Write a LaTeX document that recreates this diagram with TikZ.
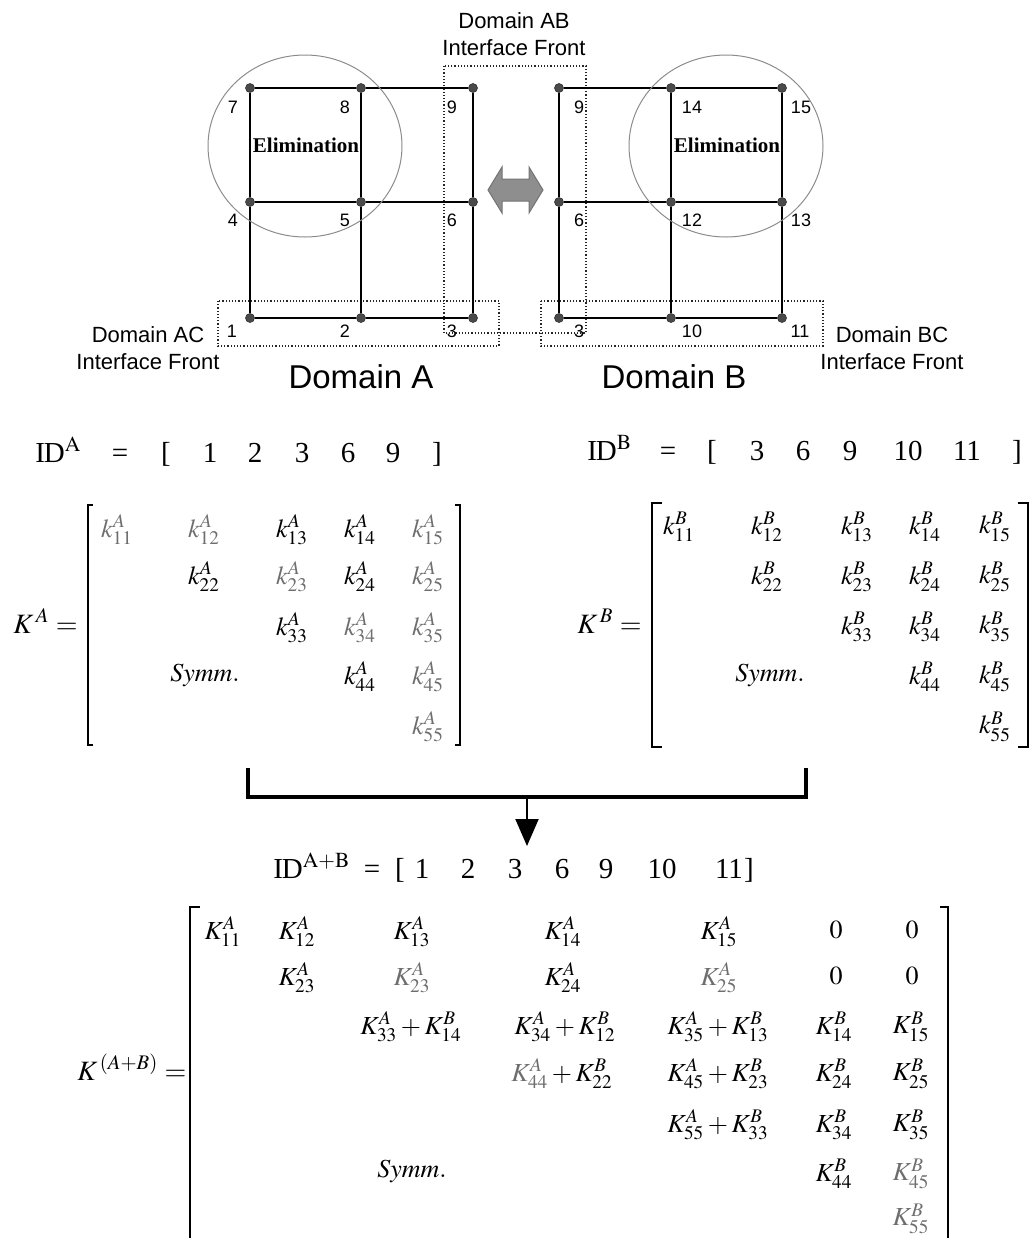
\documentclass[tikz,border=0pt]{standalone}
\usepackage{mathptmx}
\usepackage[no-math]{fontspec}
\setmainfont{Liberation Serif}
\setsansfont{Liberation Sans}
\usepackage{tikz}
\usetikzlibrary{positioning,arrows.meta,shapes.geometric}
\definecolor{punta}{HTML}{4A4A4A}
\definecolor{aro}{HTML}{8C8C8C}
\definecolor{flecha}{HTML}{8E8E8E}
\definecolor{borron}{HTML}{6E6E6E}
\newcommand{\IDsym}{I\kern-0.04em D}

\begin{document}
\begin{tikzpicture}[
  x=0.5pt, y=-0.5pt,
  punto/.style={circle, fill=punta, draw=black!80, line width=0.3pt, minimum size=4.5pt, inner sep=0pt},
  num/.style={font=\sffamily\fontsize{9}{10}\selectfont, inner sep=0pt},
  malla/.style={black, line width=1pt},
  frente/.style={black!85, line width=0.8pt, dash pattern=on 0.6pt off 1pt},
  elim/.style={ellipse, draw=aro, line width=0.5pt, minimum width=97pt, minimum height=91pt, inner sep=0pt},
  elimtxt/.style={font=\rmfamily\bfseries\fontsize{10.5}{12}\selectfont, inner sep=0pt},
  rotulo/.style={font=\sffamily\fontsize{11}{13.5}\selectfont, align=center, inner sep=0pt},
  dominio/.style={font=\sffamily\fontsize{16.5}{18}\selectfont, inner sep=0pt},
  idtxt/.style={font=\fontsize{14.5}{16}\selectfont, anchor=base, inner sep=0pt},
  celda/.style={font=\fontsize{13}{15}\selectfont, inner sep=0pt},
  nitido/.style={},
  borroso/.style={text=borron},
  etiqueta/.style={font=\fontsize{14}{16}\selectfont, anchor=base west, inner sep=0pt},
  corchete/.style={line width=1.2pt},
  union/.style={line width=1.6pt}]
  \useasboundingbox (0,0) rectangle (1030,1238);

  % interface fronts
  \draw[frente] (444,66) rectangle (586,333);
  \draw[frente] (218,301) rectangle (499,346);
  \draw[frente] (541,301) rectangle (823,346);

  % domain A
  \foreach \n/\x/\y/\dx/\dy in {7/250/88/-17/19, 8/361/88/-16/19, 9/473/88/-21/19,
      4/250/202/-17/18, 5/361/202/-16/18, 6/473/202/-21/18,
      1/250/318/-18/13, 2/361/318/-16/13, 3/473/318/-21/13}
    {\node[punto] (a\n) at (\x,\y) {};
     \node[num] (na\n) at ([shift={(\dx,\dy)}]a\n) {\n};}
  \foreach \p/\q in {7/8,8/9,4/5,5/6,1/2,2/3,7/4,4/1,8/5,5/2,9/6,6/3}
    \draw[malla] (a\p) -- (a\q);

  % domain B
  \foreach \n/\x/\y/\dx/\dy in {9/559/88/20/19, 14/671/88/21/19, 15/782/88/19/19,
      6/559/202/20/18, 12/671/202/21/18, 13/782/202/19/18,
      3/559/318/20/13, 10/671/318/21/13, 11/782/318/18/13}
    {\node[punto] (b\n) at (\x,\y) {};
     \node[num] (nb\n) at ([shift={(\dx,\dy)}]b\n) {\n};}
  \foreach \p/\q in {9/14,14/15,6/12,12/13,3/10,10/11,9/6,6/3,14/12,12/10,15/13,13/11}
    \draw[malla] (b\p) -- (b\q);

  \node[elim] (cA) at (305,146) {};
  \node[elim] (cB) at (726,146) {};
  \node[elimtxt] (eA) at (306,145) {Elimination};
  \node[elimtxt] (eB) at (727,145) {Elimination};

  % exchange arrow
  \coordinate (vaiven) at (515,190);
  \filldraw[fill=flecha, draw=black!55, line width=0.5pt]
    ([shift={(-27,0)}]vaiven) -- ++(14,-23) -- ++(0,12) -- ++(27,0) -- ++(0,-12)
    -- ++(14,23) -- ++(-14,23) -- ++(0,-12) -- ++(-27,0) -- ++(0,12) -- cycle;

  \node[rotulo] (fAB) at (514,34) {Domain AB\\Interface Front};
  \node[rotulo] (fAC) at (148,348) {Domain AC\\Interface Front};
  \node[rotulo] (fBC) at (892,348) {Domain BC\\Interface Front};
  \node[dominio] (dA) at (361,377) {Domain A};
  \node[dominio] (dB) at (674,377) {Domain B};

  % ID vectors
  \node[idtxt, anchor=base west] (idA) at (35,462) {\IDsym$^{\mathrm{A}}$};
  \foreach \x/\t [count=\i] in {120/=, 166/{[}, 210/1, 255/2, 302/3, 348/6, 393/9, 437/{]}}
    \node[idtxt] (idA\i) at (\x,462) {\t};
  \node[idtxt, anchor=base west] (idB) at (587,460) {\IDsym$^{\mathrm{B}}$};
  \foreach \x/\t [count=\i] in {668/=, 712/{[}, 757/3, 803/6, 850/9, 908/10, 967/11, 1017/{]}}
    \node[idtxt] (idB\i) at (\x,460) {\t};
  \node[idtxt, anchor=base west] (idAB) at (273,878) {\IDsym$^{\mathrm{A+B}}$};
  \foreach \x/\t [count=\i] in {372/=, 400/{[}, 422/1, 468/2, 515/3, 562/6, 606/9, 662/10, 729/11, 749/{]}}
    \node[idtxt] (idAB\i) at (\x,878) {\t};

  % K^A
  \node[etiqueta] (KA) at (13,633) {$K^{\,A} =$};
  \foreach \x/\y/\t/\s [count=\i] in {
      117/530/k^{A}_{11}/borroso, 204/530/k^{A}_{12}/borroso, 292/530/k^{A}_{13}/nitido,
      360/530/k^{A}_{14}/nitido, 428/530/k^{A}_{15}/borroso,
      204/577/k^{A}_{22}/nitido, 292/577/k^{A}_{23}/borroso, 360/577/k^{A}_{24}/nitido,
      428/577/k^{A}_{25}/borroso,
      292/628/k^{A}_{33}/nitido, 360/628/k^{A}_{34}/borroso, 428/628/k^{A}_{35}/borroso,
      360/677/k^{A}_{44}/nitido, 428/677/k^{A}_{45}/borroso,
      428/727/k^{A}_{55}/borroso, 205/675/\mathit{Symm.}/nitido}
    \node[celda,\s] (kA\i) at (\x,\y) {$\t$};
  \draw[corchete] (93,505) -- (88,505) -- (88,745) -- (93,745);
  \draw[corchete] (455,505) -- (460,505) -- (460,745) -- (455,745);

  % K^B
  \node[etiqueta] (KB) at (577,633) {$K^{\,B} =$};
  \foreach \x/\y/\t [count=\i] in {
      679/527/k^{B}_{11}, 767/527/k^{B}_{12}, 857/527/k^{B}_{13}, 925/527/k^{B}_{14}, 995/527/k^{B}_{15},
      767/577/k^{B}_{22}, 857/577/k^{B}_{23}, 925/577/k^{B}_{24}, 995/577/k^{B}_{25},
      857/627/k^{B}_{33}, 925/627/k^{B}_{34}, 995/627/k^{B}_{35},
      925/677/k^{B}_{44}, 995/677/k^{B}_{45},
      995/727/k^{B}_{55}, 770/675/\mathit{Symm.}}
    \node[celda] (kB\i) at (\x,\y) {$\t$};
  \draw[corchete] (662,503) -- (652,503) -- (652,747) -- (662,747);
  \draw[corchete] (1018,503) -- (1028,503) -- (1028,747) -- (1018,747);

  % assembly
  \coordinate (uA) at (248,768);
  \coordinate (uB) at (806,768);
  \coordinate (uM) at (527,797);
  \coordinate (uT) at (527,846);
  \draw[union] (uA) |- (uM) -| (uB);
  \draw[line width=1pt, -{Triangle[length=13.5pt, width=11.5pt]}] (uM) -- (uT);

  % K^(A+B)
  \node[etiqueta] (KAB) at (77,1080) {$K^{\,(A+B)} =$};
  \foreach \x/\y/\t/\s [count=\i] in {
      223/932/K^{A}_{11}/nitido, 297/932/K^{A}_{12}/nitido, 412/932/K^{A}_{13}/nitido,
      563/932/K^{A}_{14}/nitido, 719/932/K^{A}_{15}/nitido, 836/930/0/nitido, 912/930/0/nitido,
      297/978/K^{A}_{23}/nitido, 412/978/K^{A}_{23}/borroso, 563/978/K^{A}_{24}/nitido,
      719/978/K^{A}_{25}/borroso, 836/976/0/nitido, 912/976/0/nitido,
      411/1027/K^{A}_{33} + K^{B}_{14}/nitido, 565/1027/K^{A}_{34} + K^{B}_{12}/nitido,
      718/1027/K^{A}_{35} + K^{B}_{13}/nitido, 834/1027/K^{B}_{14}/nitido, 911/1027/K^{B}_{15}/nitido,
      562/1074/\textcolor{borron}{K^{A}_{44}} + K^{B}_{22}/nitido,
      718/1074/K^{A}_{45} + K^{B}_{23}/nitido, 834/1074/K^{B}_{24}/nitido, 911/1074/K^{B}_{25}/nitido,
      718/1125/K^{A}_{55} + K^{B}_{33}/nitido, 834/1125/K^{B}_{34}/nitido, 911/1125/K^{B}_{35}/nitido,
      834/1174/K^{B}_{44}/nitido, 911/1174/K^{B}_{45}/borroso,
      911/1219/K^{B}_{55}/borroso, 412/1171/\mathit{Symm.}/nitido}
    \node[celda,\s] (kAB\i) at (\x,\y) {$\t$};
  \draw[corchete, line width=1.4pt] (200,907) -- (190,907) -- (190,1238);
  \draw[corchete, line width=1.4pt] (940,907) -- (948,907) -- (948,1238);
\end{tikzpicture}
\end{document}
